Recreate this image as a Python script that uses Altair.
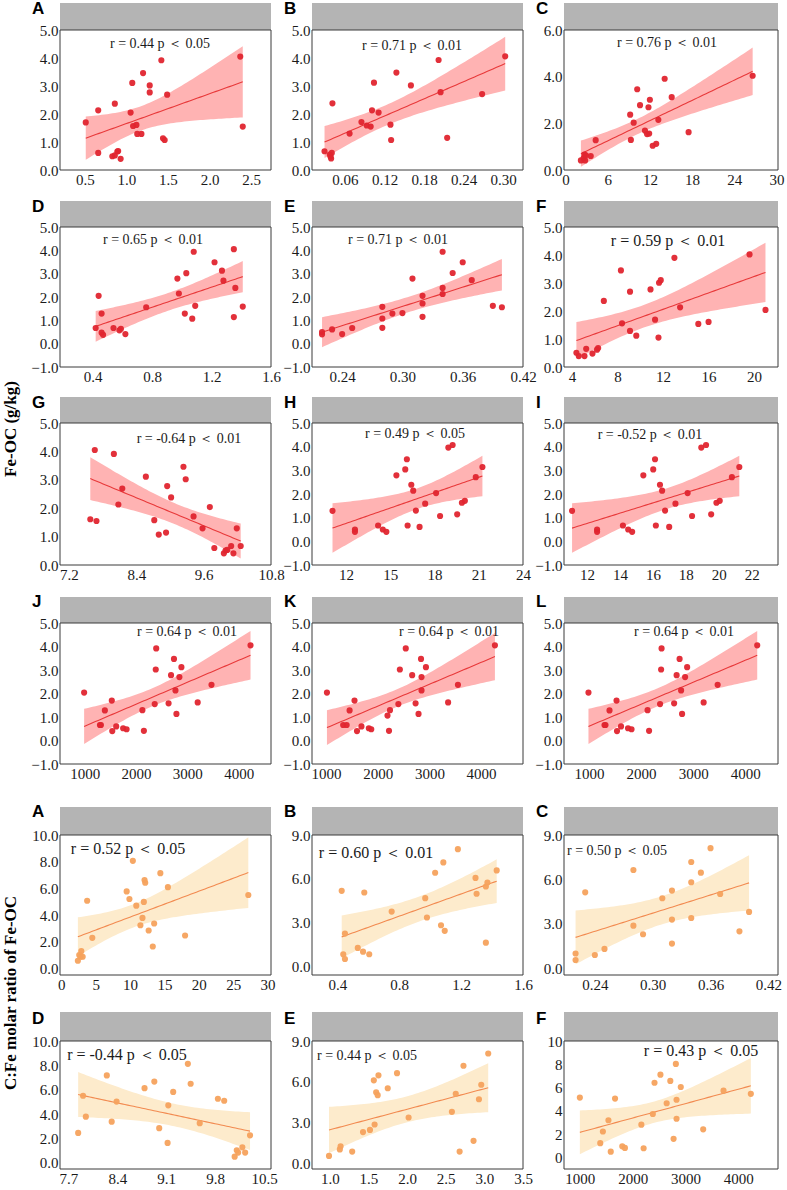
import altair as alt
import numpy as np
import pandas as pd

# ---------------- Fe-OC (g/kg) against soil properties: panels A-L ----------------
A_x = [0.51, 0.66, 0.66, 0.83, 0.86, 0.86, 0.90, 0.89, 0.93, 1.05, 1.07, 1.08,
       1.12, 1.13, 1.18, 1.20, 1.28, 1.28, 1.42, 1.44, 1.46, 1.49, 2.37, 2.40]
A_y = [1.70, 2.13, 0.61, 0.49, 0.52, 2.37, 0.68, 0.66, 0.40, 2.05, 3.11, 1.57,
       1.61, 1.29, 1.29, 3.46, 3.02, 2.77, 3.92, 1.13, 1.07, 2.69, 4.05, 1.55]

B_x = [0.029, 0.037, 0.038, 0.039, 0.040, 0.041, 0.067, 0.085, 0.093, 0.099, 0.101,
       0.104, 0.111, 0.138, 0.129, 0.130, 0.160, 0.202, 0.205, 0.215, 0.268, 0.303]
B_y = [0.67, 0.55, 0.48, 0.41, 0.61, 2.38, 1.30, 1.71, 1.59, 1.55, 2.13,
       3.12, 2.05, 3.48, 1.62, 1.07, 3.02, 3.93, 2.78, 1.15, 2.71, 4.06]

C_x = [2.2, 2.6, 2.7, 2.8, 2.9, 3.6, 4.3, 9.2, 9.3, 9.7, 10.2, 10.6,
       11.3, 11.6, 11.8, 11.9, 12.0, 12.4, 12.9, 13.2, 14.1, 15.1, 17.5, 26.6]
C_y = [0.41, 0.51, 0.66, 0.41, 0.63, 0.60, 1.28, 2.37, 1.29, 2.03, 3.46, 2.78,
       1.69, 1.54, 2.69, 1.56, 3.01, 1.04, 1.12, 2.15, 3.91, 3.12, 1.62, 4.04]

D_x = [0.42, 0.44, 0.46, 0.46, 0.47, 0.54, 0.58, 0.59, 0.62, 0.76, 0.97, 0.98,
       1.02, 1.03, 1.07, 1.08, 1.09, 1.22, 1.27, 1.28, 1.35, 1.35, 1.36, 1.41]
D_y = [0.67, 2.05, 0.47, 1.29, 0.38, 0.67, 0.57, 0.64, 0.41, 1.56, 2.79, 2.15,
       1.29, 3.02, 1.07, 3.94, 1.62, 3.49, 3.13, 2.70, 4.05, 1.14, 2.39, 1.59]

E_x = [0.220, 0.220, 0.230, 0.240, 0.250, 0.280, 0.280, 0.280, 0.290, 0.300, 0.310,
       0.320, 0.320, 0.320, 0.340, 0.340, 0.340, 0.350, 0.360, 0.369, 0.390, 0.399]
E_y = [0.50, 0.40, 0.61, 0.41, 0.67, 1.58, 1.08, 0.68, 1.29, 1.31, 2.79,
       2.05, 1.72, 1.15, 3.94, 2.39, 2.13, 3.03, 3.49, 2.72, 1.62, 1.56]

F_x = [4.39, 4.6, 5.1, 5.25, 5.8, 6.2, 6.3, 6.8, 8.3, 8.4, 9.1, 9.1,
       9.65, 10.9, 11.3, 11.6, 11.65, 11.8, 13.0, 13.5, 15.1, 16.0, 19.6, 21.0]
F_y = [0.51, 0.39, 0.39, 0.65, 0.48, 0.62, 0.68, 2.36, 3.45, 1.56, 2.69, 1.29,
       1.12, 2.77, 1.69, 1.05, 3.01, 3.10, 3.90, 2.13, 1.54, 1.61, 4.02, 2.04]

G_x = [7.58, 7.66, 7.69, 8.00, 8.08, 8.15, 8.57, 8.72, 8.80, 8.93, 8.95, 9.02, 9.24,
       9.28, 9.42, 9.58, 9.71, 9.79, 9.96, 9.99, 10.02, 10.09, 10.13, 10.19, 10.26]
G_y = [1.61, 4.05, 1.55, 3.91, 2.13, 2.69, 3.11, 1.58, 1.07, 1.14, 2.78, 2.38, 3.46,
       3.02, 1.71, 1.29, 2.04, 0.60, 0.41, 0.51, 0.53, 0.67, 0.41, 1.29, 0.67]

# panels H and I plot the same samples
H_x = [11.09, 12.61, 12.61, 14.18, 14.50, 14.74, 15.42, 16.02, 16.13, 16.18, 16.43, 16.56,
       16.74, 16.99, 17.37, 18.11, 18.38, 18.94, 19.23, 19.54, 19.86, 20.06, 20.80, 21.25]
H_y = [1.29, 0.50, 0.40, 0.67, 0.50, 0.40, 2.79, 3.04, 3.47, 0.67, 2.39, 2.14,
       1.30, 0.61, 1.59, 2.04, 1.07, 3.96, 4.07, 1.14, 1.63, 1.71, 2.71, 3.14]

# panels J and L plot the same samples
J_x = [990, 1298, 1317, 1394, 1529, 1538, 1615, 1750, 1817, 2125, 2154, 2365,
       2385, 2394, 2635, 2683, 2740, 2769, 2788, 2846, 2885, 3202, 3471, 4231]
J_y = [2.04, 0.66, 0.66, 1.28, 1.70, 0.40, 0.60, 0.52, 0.48, 1.29, 0.41, 1.55,
       3.02, 3.92, 1.58, 2.78, 3.47, 2.13, 1.13, 2.70, 3.12, 1.62, 2.37, 4.05]

K_x = [1019, 1333, 1400, 1457, 1552, 1600, 1686, 1829, 1876, 2190, 2238, 2219, 2400,
       2429, 2543, 2667, 2733, 2790, 2838, 2848, 2848, 2933, 3362, 3552, 4267]
K_y = [2.04, 0.66, 0.66, 1.28, 1.70, 0.40, 0.60, 0.52, 0.48, 1.06, 1.29, 0.41, 1.55,
       3.02, 3.92, 2.78, 1.58, 1.13, 3.47, 2.70, 2.13, 3.12, 1.62, 2.37, 4.05]

# ---------------- C:Fe molar ratio of Fe-OC: lower panels A-F ----------------
A2_x = [2.4, 2.6, 2.8, 2.9, 3.1, 3.75, 4.5, 9.5, 9.9, 10.4, 10.9, 11.5,
        11.8, 12.0, 12.1, 12.2, 12.7, 13.3, 13.5, 14.4, 15.5, 18.0, 27.2]
A2_y = [0.57, 1.00, 0.87, 1.29, 0.87, 5.07, 2.29, 5.77, 5.20, 8.06, 4.70, 3.23,
        3.78, 4.98, 6.62, 6.42, 2.84, 1.64, 3.36, 7.14, 6.09, 2.46, 5.50]

B2_x = [0.428, 0.438, 0.449, 0.449, 0.532, 0.566, 0.574, 0.606, 0.751, 0.968, 0.979,
        1.032, 1.070, 1.085, 1.094, 1.179, 1.293, 1.300, 1.360, 1.360, 1.370, 1.430]
B2_y = [5.17, 0.82, 2.24, 0.50, 1.26, 1.00, 5.06, 0.82, 3.75, 4.67, 3.34,
        6.41, 2.81, 7.12, 2.43, 8.03, 6.06, 4.97, 5.47, 1.62, 5.74, 6.57]

C2_x = [0.22, 0.22, 0.23, 0.24, 0.25, 0.28, 0.28, 0.29, 0.31, 0.32,
        0.32, 0.32, 0.34, 0.34, 0.34, 0.35, 0.36, 0.37, 0.39, 0.40]
C2_y = [1.00, 0.56, 5.13, 0.90, 1.31, 6.64, 2.88, 2.30, 4.73, 5.25,
        3.29, 1.67, 7.18, 3.40, 5.81, 6.46, 8.11, 5.02, 2.50, 3.81]

D2_x = [7.84, 7.91, 7.95, 8.25, 8.32, 8.39, 8.79, 8.93, 9.00, 9.12, 9.13, 9.20,
        9.41, 9.45, 9.58, 9.84, 9.93, 10.08, 10.11, 10.13, 10.19, 10.23, 10.30]
D2_y = [2.46, 5.51, 3.79, 7.18, 3.38, 5.03, 6.13, 6.67, 2.85, 1.64, 4.72, 5.82,
        8.13, 6.49, 3.26, 5.26, 5.10, 0.51, 1.03, 0.85, 1.28, 0.85, 2.26]

E2_x = [0.99, 1.13, 1.14, 1.29, 1.43, 1.52, 1.57, 1.58, 1.60, 1.62, 1.63,
        1.75, 1.87, 2.02, 2.58, 2.63, 2.68, 2.73, 2.86, 2.93, 2.96, 3.05]
E2_y = [0.56, 1.04, 1.27, 0.88, 2.31, 2.47, 6.11, 2.87, 5.23, 5.02, 6.48,
        5.53, 6.64, 3.38, 3.80, 5.12, 0.88, 7.18, 1.67, 4.72, 5.79, 8.08]

F2_x = [1000, 1386, 1436, 1541, 1585, 1666, 1803, 1853, 2164, 2207, 2381, 2413,
        2525, 2643, 2712, 2774, 2817, 2830, 2830, 2910, 3334, 3719, 4236]
F2_y = [5.14, 1.22, 2.22, 3.19, 0.49, 5.05, 0.95, 0.81, 2.81, 0.78, 3.73, 6.41,
        7.11, 4.65, 6.57, 1.59, 8.03, 4.95, 3.32, 6.05, 2.41, 5.73, 5.46]

# ---------------- fitted line with 95 % confidence band ----------------
T_CRIT = {18: 2.101, 19: 2.093, 20: 2.086, 21: 2.080, 22: 2.074, 23: 2.069}


def fit_band(xs, ys, steps=60):
    x = np.asarray(xs, float)
    y = np.asarray(ys, float)
    n = len(x)
    xm = x.mean()
    sxx = ((x - xm) ** 2).sum()
    slope = ((x - xm) * (y - y.mean())).sum() / sxx
    icpt = y.mean() - slope * xm
    resid = y - (icpt + slope * x)
    s = np.sqrt((resid ** 2).sum() / (n - 2))
    t = T_CRIT.get(n - 2, 2.07)
    gx = np.linspace(x.min(), x.max(), steps)
    fit = icpt + slope * gx
    half = t * s * np.sqrt(1.0 / n + (gx - xm) ** 2 / sxx)
    return pd.DataFrame({"x": gx, "fit": fit, "lo": fit - half, "hi": fit + half})


SERIF = "Liberation Serif"
SANS = "Liberation Sans"
RED = {"dot": "#e0252f", "line": "#e8393a", "band": "#ffb3b3"}
ORANGE = {"dot": "#f5a25d", "line": "#f28a50", "band": "#fdebcc"}
ONE = pd.DataFrame({"k": [0]})

Y5 = [0, 1, 2, 3, 4, 5]
Y51 = [-1, 0, 1, 2, 3, 4, 5]
Y10 = [0, 2, 4, 6, 8, 10]
Y9 = [0, 3, 6, 9]

PANELS = {
    "A": dict(x=A_x, y=A_y, xdom=[0.2, 2.74], xt=[0.5, 1.0, 1.5, 2.0, 2.5], xf=".1f",
              ydom=[0, 5], yt=Y5, yf=".1f", note="r = 0.44 p ＜ 0.05", nx=100, ny=14, ns=14),
    "B": dict(x=B_x, y=B_y, xdom=[0.01, 0.33], xt=[0.06, 0.12, 0.18, 0.24, 0.30], xf=".2f",
              ydom=[0, 5], yt=Y5, yf=".1f", note="r = 0.71 p ＜ 0.01", nx=100, ny=16, ns=14),
    "C": dict(x=C_x, y=C_y, xdom=[-0.2, 30.2], xt=[0, 6, 12, 18, 24, 30], xf="d",
              ydom=[0, 6], yt=[0, 2, 4, 6], yf=".1f", note="r = 0.76 p ＜ 0.01", nx=103, ny=13, ns=14),
    "D": dict(x=D_x, y=D_y, xdom=[0.18, 1.6], xt=[0.4, 0.8, 1.2, 1.6], xf=".1f",
              ydom=[-1, 5], yt=Y51, yf=".1f", note="r = 0.65 p ＜ 0.01", nx=93, ny=13, ns=14),
    "E": dict(x=E_x, y=E_y, xdom=[0.21, 0.42], xt=[0.24, 0.30, 0.36, 0.42], xf=".2f",
              ydom=[-1, 5], yt=Y51, yf=".1f", note="r = 0.71 p ＜ 0.01", nx=86, ny=13, ns=14),
    "F": dict(x=F_x, y=F_y, xdom=[3.3, 22.1], xt=[4, 8, 12, 16, 20], xf="d",
              ydom=[0, 5], yt=Y5, yf=".1f", note="r = 0.59 p ＜ 0.01", nx=104, ny=14, ns=16),
    "G": dict(x=G_x, y=G_y, xdom=[7.04, 10.8], xt=[7.2, 8.4, 9.6, 10.8], xf=".1f",
              ydom=[0, 5], yt=Y5, yf=".1f", note="r = -0.64 p ＜ 0.01", nx=129, ny=16, ns=14),
    "H": dict(x=H_x, y=H_y, xdom=[9.7, 24.0], xt=[12, 15, 18, 21, 24], xf="d",
              ydom=[-1, 5], yt=Y51, yf=".1f", note="r = 0.49 p ＜ 0.05", nx=103, ny=11, ns=14),
    "I": dict(x=H_x, y=H_y, xdom=[10.6, 23.6], xt=[12, 14, 16, 18, 20, 22], xf="d",
              ydom=[-1, 5], yt=Y51, yf=".1f", note="r = -0.52 p ＜ 0.01", nx=86, ny=12, ns=14),
    "J": dict(x=J_x, y=J_y, xdom=[520, 4630], xt=[1000, 2000, 3000, 4000], xf="d",
              ydom=[-1, 5], yt=Y51, yf=".1f", note="r = 0.64 p ＜ 0.01", nx=127, ny=9, ns=14),
    "K": dict(x=K_x, y=K_y, xdom=[730, 4810], xt=[1000, 2000, 3000, 4000], xf="d",
              ydom=[-1, 5], yt=Y51, yf=".1f", note="r = 0.64 p ＜ 0.01", nx=137, ny=9, ns=14),
    "L": dict(x=J_x, y=J_y, xdom=[520, 4630], xt=[1000, 2000, 3000, 4000], xf="d",
              ydom=[-1, 5], yt=Y51, yf=".1f", note="r = 0.64 p ＜ 0.01", nx=120, ny=9, ns=14),
    "A2": dict(x=A2_x, y=A2_y, xdom=[-0.2, 30.5], xt=[0, 5, 10, 15, 20, 25, 30], xf="d",
               ydom=[-0.5, 10], yt=Y10, yf=".1f", note="r = 0.52 p ＜ 0.05", nx=68, ny=14, ns=16),
    "B2": dict(x=B2_x, y=B2_y, xdom=[0.236, 1.6], xt=[0.4, 0.8, 1.2, 1.6], xf=".1f",
               ydom=[-0.6, 9], yt=Y9, yf=".1f", note="r = 0.60 p ＜ 0.01", nx=64, ny=18, ns=16),
    "C2": dict(x=C2_x, y=C2_y, xdom=[0.208, 0.43], xt=[0.24, 0.30, 0.36, 0.42], xf=".2f",
               ydom=[-0.45, 9], yt=Y9, yf=".1f", note="r = 0.50 p ＜ 0.05", nx=53, ny=16, ns=14),
    "D2": dict(x=D2_x, y=D2_y, xdom=[7.58, 10.6], xt=[7.7, 8.4, 9.1, 9.8, 10.5], xf=".1f",
               ydom=[-0.5, 10], yt=Y10, yf=".1f", note="r = -0.44 p ＜ 0.05", nx=67, ny=14, ns=16),
    "E2": dict(x=E2_x, y=E2_y, xdom=[0.77, 3.5], xt=[1.0, 1.5, 2.0, 2.5, 3.0, 3.5], xf=".1f",
               ydom=[-0.4, 9], yt=Y9, yf=".1f", note="r = 0.44 p ＜ 0.05", nx=55, ny=15, ns=14),
    "F2": dict(x=F2_x, y=F2_y, xdom=[700, 4750], xt=[1000, 2000, 3000, 4000], xf="d",
               ydom=[-1, 10], yt=Y10, yf="d", note="r = 0.43 p ＜ 0.05", nx=137, ny=10, ns=16),
}

# row layout: panel keys, letters, plot height, room below, header height, letter y, palette
ROWS = [
    (["A", "B", "C"], ["A", "B", "C"], 140, 27, 27, -21, RED),
    (["D", "E", "F"], ["D", "E", "F"], 140, 26, 26, -20, RED),
    (["G", "H", "I"], ["G", "H", "I"], 142, 28, 26, -20, RED),
    (["J", "K", "L"], ["J", "K", "L"], 141, 39, 26, -21, RED),
    (["A2", "B2", "C2"], ["A", "B", "C"], 140, 35, 28, -23, ORANGE),
    (["D2", "E2", "F2"], ["D", "E", "F"], 128, 12, 29, -22, ORANGE),
]
COL_W = [211, 211, 214]


def panel(p, letter, w, h, below, head, ly, theme):
    pts = pd.DataFrame({"x": p["x"], "y": p["y"]})
    band = fit_band(p["x"], p["y"])
    xs = alt.Scale(domain=p["xdom"], nice=False, zero=False)
    ys = alt.Scale(domain=p["ydom"], nice=False, zero=False)
    xa = alt.Axis(values=p["xt"], format=p["xf"], title="")
    ya = alt.Axis(values=p["yt"], format=p["yf"], title="")

    def X(f):
        return alt.X(f"{f}:Q", scale=xs, axis=xa)

    def Y(f):
        return alt.Y(f"{f}:Q", scale=ys, axis=ya)

    area = alt.Chart(band).mark_area(color=theme["band"]).encode(x=X("x"), y=Y("lo"), y2="hi:Q")
    line = alt.Chart(band).mark_line(color=theme["line"], strokeWidth=1.1).encode(x=X("x"), y=Y("fit"))
    dots = alt.Chart(pts).mark_circle(size=38, color=theme["dot"], opacity=0.95).encode(x=X("x"), y=Y("y"))
    header = alt.Chart(ONE).mark_rect(color="#b4b4b4").encode(
        x=alt.value(0), x2=alt.value(w), y=alt.value(-head), y2=alt.value(0))
    frame = alt.Chart(ONE).mark_rect(fillOpacity=0, stroke="#3a3a3a", strokeWidth=1).encode(
        x=alt.value(0), x2=alt.value(w), y=alt.value(0), y2=alt.value(h))
    tag = alt.Chart(ONE).mark_text(font=SANS, fontWeight="bold", fontSize=17, align="left",
                                   baseline="middle", color="#000000").encode(
        x=alt.value(-28), y=alt.value(ly), text=alt.value(letter))
    note = alt.Chart(ONE).mark_text(font=SERIF, fontSize=p["ns"], align="center",
                                    baseline="middle", color="#1a1a1a").encode(
        x=alt.value(p["nx"]), y=alt.value(p["ny"]), text=alt.value(p["note"]))
    # transparent box that fixes the cell extent used by the row layout
    ghost = alt.Chart(ONE).mark_rect(opacity=0).encode(
        x=alt.value(-41), x2=alt.value(w), y=alt.value(-30), y2=alt.value(h + below))
    return alt.layer(area, line, dots, header, frame, tag, note, ghost).properties(width=w, height=h)


rows = []
for keys, letters, h, below, head, ly, theme in ROWS:
    cells = [panel(PANELS[k], letters[i], COL_W[i], h, below, head, ly, theme)
             for i, k in enumerate(keys)]
    rows.append(alt.hconcat(*cells, spacing=41, bounds="flush"))
grid = alt.vconcat(*rows, spacing=0)

title_style = dict(font=SERIF, fontWeight="bold", fontSize=17, angle=270,
                   align="center", baseline="middle", color="#000000")
titles = alt.layer(
    alt.Chart(ONE).mark_text(**title_style).encode(
        x=alt.value(11), y=alt.value(399), text=alt.value("Fe-OC (g/kg)")),
    alt.Chart(ONE).mark_text(**title_style).encode(
        x=alt.value(11), y=alt.value(963), text=alt.value("C:Fe molar ratio of Fe-OC")),
).properties(width=19, height=1170)

chart = (
    alt.hconcat(titles, grid, spacing=0)
    .properties(padding={"left": 0, "top": 0, "right": 0, "bottom": 0})
    .configure_view(strokeWidth=0)
    .configure_axis(labelFont=SERIF, labelFontSize=15, labelColor="#1a1a1a", labelPadding=2,
                    domain=False, ticks=False, grid=False, labelOverlap=False, labelFlush=False)
)

chart.save("out.html", embed_options={"renderer": "svg", "actions": False})
